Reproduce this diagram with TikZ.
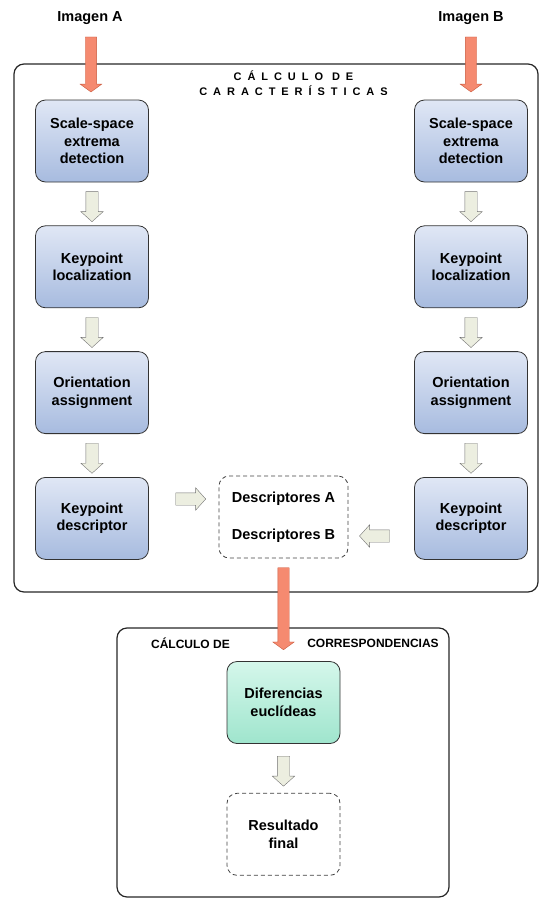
\documentclass[tikz,border=0pt]{standalone}
\usepackage{fontspec}
\setmainfont{Liberation Sans}
\newfontfamily\spacedfont[LetterSpace=54]{Liberation Sans}
\usepackage{xcolor}
\usetikzlibrary{arrows.meta, positioning, shapes.arrows}

\definecolor{boxtop}{HTML}{E0E7F5}
\definecolor{boxbot}{HTML}{A7BBDF}
\definecolor{greentop}{HTML}{D5F7EB}
\definecolor{greenbot}{HTML}{9FE5CD}
\definecolor{arrowfill}{HTML}{ECEEE0}
\definecolor{redfill}{HTML}{F58A70}
\definecolor{reddraw}{HTML}{C9583B}

\begin{document}
\begin{tikzpicture}[
  x=1pt, y=-1pt,
  node distance=43pt and 60pt,
  box/.style={draw=black!80, rounded corners=10pt, minimum height=82pt, minimum width=113pt,
    align=center, font=\fontsize{14.5}{17.5}\selectfont\bfseries,
    top color=boxtop, bottom color=boxbot, line width=0.8pt},
  dbox/.style={draw=black!75, dash pattern=on 4pt off 3pt, line width=0.8pt, rounded corners=10pt,
    minimum height=82pt, minimum width=113pt, align=center,
    font=\fontsize{14.5}{17.5}\selectfont\bfseries},
  frame/.style={draw=black!85, line width=1.2pt, rounded corners=10pt},
  garrow/.style={single arrow, draw=black!55, fill=arrowfill, inner xsep=0pt, inner ysep=6pt,
    minimum height=30pt, single arrow head extend=5pt, single arrow tip angle=96},
  rarrow/.style={single arrow, draw=reddraw, fill=redfill, inner xsep=0pt, inner ysep=5.5pt,
    single arrow head extend=5pt, single arrow tip angle=108, rotate=-90},
  lbl/.style={font=\fontsize{14.5}{17}\selectfont\bfseries},
  sublbl/.style={font=\fontsize{12}{14}\selectfont\bfseries}
]
\useasboundingbox (0,0) rectangle (540,900);

% frames
\draw[frame] (14,64) rectangle (538,592);
\draw[frame] (117,628) rectangle (449,897);
\begin{scope}
  \clip (150,68) rectangle (430,94.5);
  \node[align=center, font=\spacedfont\fontsize{11}{15}\selectfont\bfseries] (feattitle) at (293.5,83.5)
    {CÁLCULO DE\\CARACTERÍSTICAS};
\end{scope}
\node[sublbl] (corrA) at (190.5,643) {CÁLCULO DE};
\node[sublbl] (corrB) at (373,643) {CORRESPONDENCIAS};

% inputs
\node[lbl] (imgA) at (90,18) {Imagen A};
\node[lbl] (imgB) at (471,18) {Imagen B};

% left column
\node[box] (sseA) at (92,141) {Scale-space\\extrema\\detection};
\node[box, below=of sseA] (klA) {Keypoint\\localization};
\node[box, below=of klA] (oaA) {Orientation\\assignment};
\node[box, below=of oaA] (kdA) {Keypoint\\descriptor};

% right column
\node[box] (sseB) at (471,141) {Scale-space\\extrema\\detection};
\node[box, below=of sseB] (klB) {Keypoint\\localization};
\node[box, below=of klB] (oaB) {Orientation\\assignment};
\node[box, below=of oaB] (kdB) {Keypoint\\descriptor};

% descriptors
\node[dbox, minimum width=129pt] (desc) at (283.5,517) {};
\node[lbl] (descA) at ([yshift=18pt]desc.center) {Descriptores A};
\node[lbl] (descB) at ([yshift=-19pt]desc.center) {Descriptores B};

% matching
\node[box, top color=greentop, bottom color=greenbot] (diff) at (283.5,702.5) {Diferencias\\euclídeas};
\node[dbox, below=49pt of diff] (final) {Resultado\\final};

% red arrows
\path (imgA.south) -- (sseA.north) node[rarrow, pos=0.48, minimum height=55pt] (inA) {};
\path (imgB.south) -- (sseB.north) node[rarrow, pos=0.48, minimum height=55pt] (inB) {};
\path (desc.south) -- (diff.north) node[rarrow, pos=0.47, minimum height=82pt] (toCorr) {};

% grey arrows
\foreach \c in {A,B} {
  \path (sse\c) -- (kl\c) node[garrow, midway, rotate=-90] {};
  \path (kl\c) -- (oa\c) node[garrow, midway, rotate=-90] {};
  \path (oa\c) -- (kd\c) node[garrow, midway, rotate=-90] {};
}
\path (kdA.east |- descA) -- (desc.west |- descA) node[garrow, pos=0.56] (gA) {};
\path (desc.east |- descB) -- (kdB.west |- descB) node[garrow, pos=0.44, rotate=180] (gB) {};
\path (diff) -- (final) node[garrow, midway, rotate=-90] (gC) {};
\end{tikzpicture}
\end{document}
